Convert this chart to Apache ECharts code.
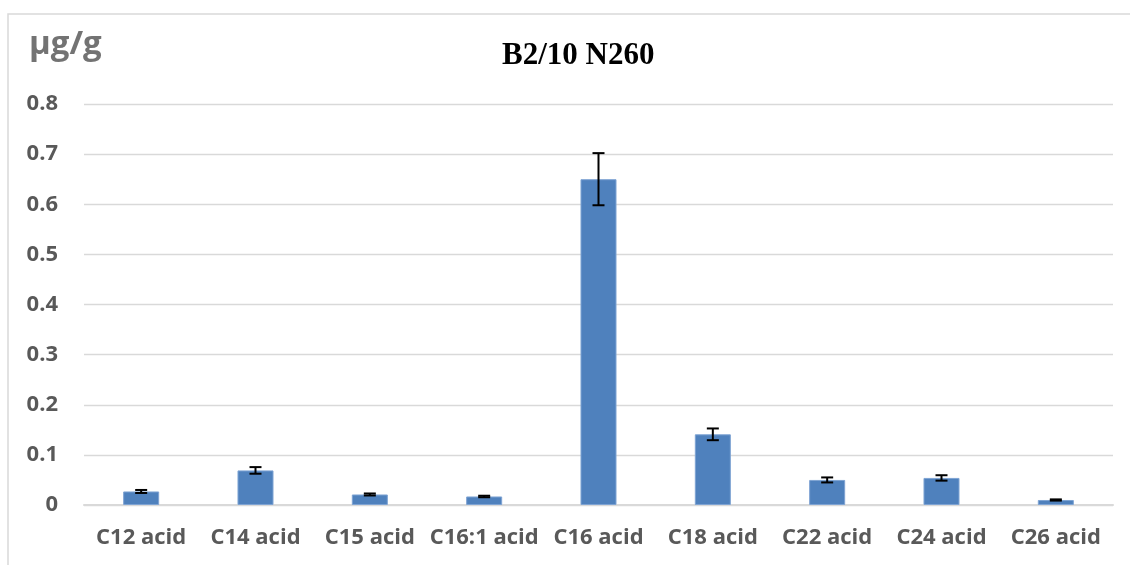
<!DOCTYPE html>
<html>
<head>
<meta charset="utf-8">
<script src="https://cdn.jsdelivr.net/npm/echarts@6/dist/echarts.min.js"></script>
<style>
    html, body { margin: 0; padding: 0; background: #fff; }
    #chart { width: 1131px; height: 565px; }
</style>
</head>
<body>
<div id="chart"></div>
<script>
// acids on the x axis
var categories = ['C12 acid', 'C14 acid', 'C15 acid', 'C16:1 acid', 'C16 acid', 'C18 acid', 'C22 acid', 'C24 acid', 'C26 acid'];
// mean concentration, µg/g
var values = [0.027, 0.069, 0.021, 0.017, 0.650, 0.141, 0.050, 0.054, 0.010];
// +/- error
var errors = [0.003, 0.0066, 0.002, 0.0015, 0.052, 0.0117, 0.005, 0.0054, 0.0012];
var yTicks = [0, 0.1, 0.2, 0.3, 0.4, 0.5, 0.6, 0.7, 0.8];

var textColor = '#595959';
var chart = echarts.init(document.getElementById('chart'));

chart.setOption({
    animation: false,
    backgroundColor: '#fff',
    title: {
        text: 'B2/10 N260',
        left: 497,
        top: 35,
        textStyle: {
            fontFamily: 'Liberation Serif',
            fontWeight: 'bold',
            fontSize: 31,
            color: '#000'
        }
    },
    graphic: [
        {
            type: 'polyline',
            shape: { points: [[8, 565], [8, 14], [1130, 14]] },
            style: { stroke: '#d9d9d9', lineWidth: 1.5, fill: null }
        },
        {
            type: 'text',
            left: 29,
            top: 28,
            style: {
                text: 'µg/g',
                fontFamily: 'Open Sans',
                fontWeight: 'bold',
                fontSize: 33,
                fill: '#737373'
            }
        }
    ],
    grid: {
        left: 84,
        right: 18,
        top: 104,
        bottom: 60,
        containLabel: false
    },
    xAxis: {
        type: 'category',
        data: categories,
        axisTick: { show: false },
        axisLine: { lineStyle: { color: '#d9d9d9', width: 2 } },
        axisLabel: {
            interval: 0,
            margin: 22,
            color: textColor,
            fontFamily: 'Open Sans',
            fontWeight: 'bold',
            fontSize: 22
        }
    },
    yAxis: {
        type: 'value',
        min: 0,
        max: 0.8,
        interval: 0.1,
        axisLine: { show: false },
        axisTick: { show: false },
        splitLine: { lineStyle: { color: '#d9d9d9', width: 1.3 } },
        axisLabel: {
            margin: 26,
            color: textColor,
            fontFamily: 'Open Sans',
            fontWeight: 'bold',
            fontSize: 22,
            formatter: function (v) {
                var hit = yTicks.find(function (t) { return Math.abs(t - v) < 1e-9; });
                return hit === undefined ? '' : String(hit);
            }
        }
    },
    series: [
        {
            type: 'bar',
            data: values,
            barWidth: '31.5%',
            itemStyle: {
                color: '#4f81bd',
                borderColor: '#7ea3d3',
                borderWidth: 1
            }
        },
        {
            type: 'custom',
            data: values.map(function (v, i) { return [i, v - errors[i], v + errors[i]]; }),
            encode: { x: 0, y: [1, 2] },
            z: 10,
            renderItem: function (params, api) {
                var lo = api.coord([api.value(0), api.value(1)]);
                var hi = api.coord([api.value(0), api.value(2)]);
                var half = 6;
                var style = { stroke: '#000', lineWidth: 2 };
                return {
                    type: 'group',
                    children: [
                        { type: 'line', shape: { x1: hi[0], y1: hi[1], x2: lo[0], y2: lo[1] }, style: style },
                        { type: 'line', shape: { x1: hi[0] - half, y1: hi[1], x2: hi[0] + half, y2: hi[1] }, style: style },
                        { type: 'line', shape: { x1: lo[0] - half, y1: lo[1], x2: lo[0] + half, y2: lo[1] }, style: style }
                    ]
                };
            }
        }
    ]
});
</script>
</body>
</html>
